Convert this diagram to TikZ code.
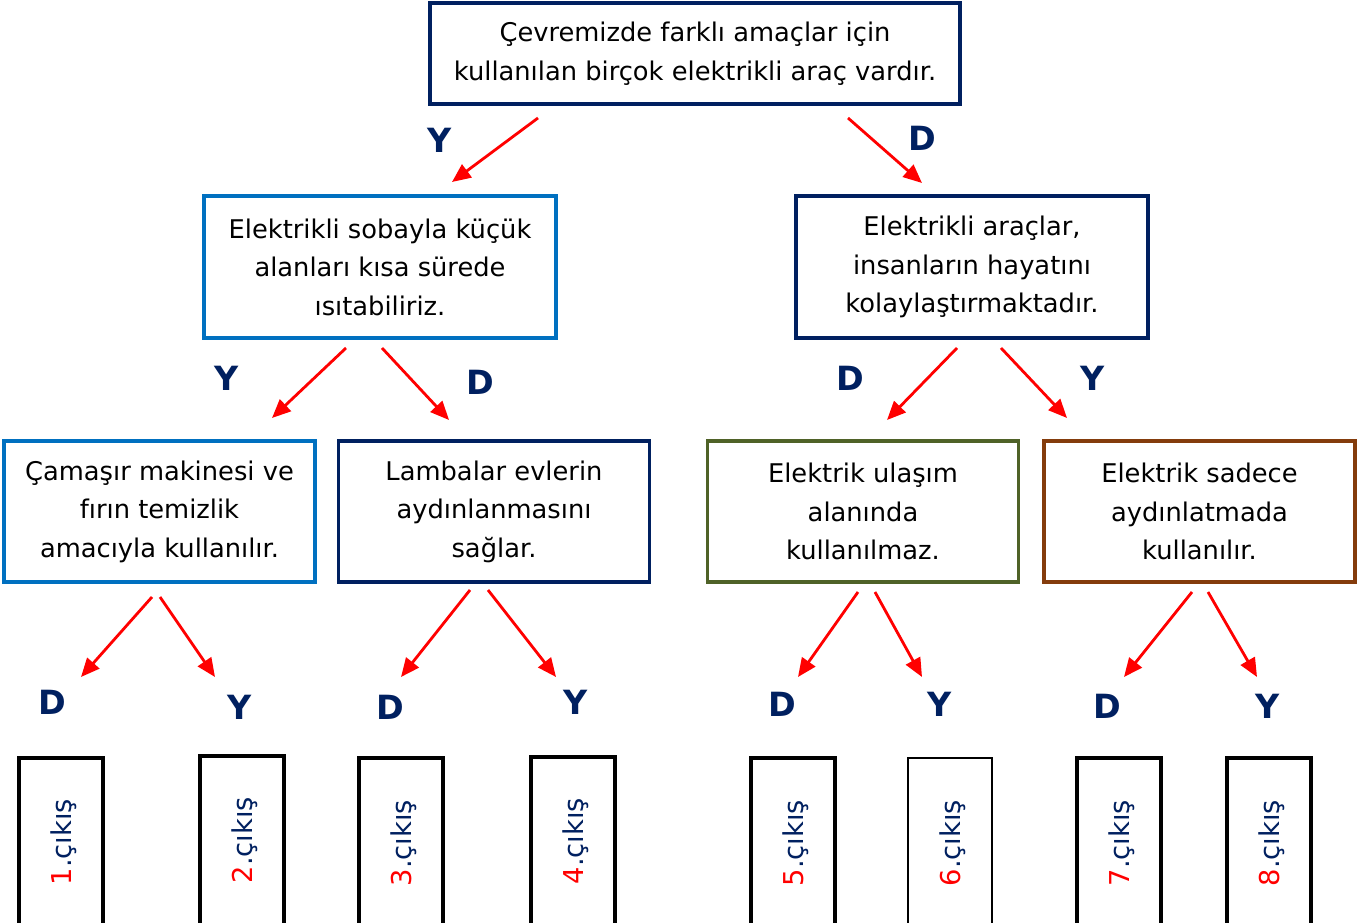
\documentclass[tikz,border=0pt]{standalone}
\usepackage{fontspec}
\setmainfont{DejaVu Sans}
\usetikzlibrary{arrows.meta}
\definecolor{navy}{RGB}{0,32,96}
\definecolor{lblue}{RGB}{0,112,192}
\definecolor{dgreen}{RGB}{79,98,40}
\definecolor{brown}{RGB}{132,60,12}
\tikzset{
  box/.style={draw, line width=2.4pt, align=center, inner sep=0pt,
    font=\fontsize{19.3}{28.9}\selectfont, text=black},
  topbox/.style={box, draw=navy, minimum width=397.5pt, minimum height=75.75pt},
  midbox/.style={box, minimum width=264pt, minimum height=106.5pt},
  lowbox/.style={box, minimum width=233.25pt, minimum height=105.75pt},
  outbox/.style={draw=black, line width=2.4pt, rotate=90, inner sep=0pt,
    minimum width=127.5pt, minimum height=63pt},
  outtxt/.style={rotate=90, inner sep=0pt, text=navy, font=\fontsize{20.5}{24}\selectfont},
  yd/.style={text=navy, font=\fontsize{25}{28}\selectfont\bfseries, inner sep=0pt},
  arr/.style={draw=red, line width=2.1pt, -{Triangle[length=14pt,width=12pt]}},
}
\begin{document}
\begin{tikzpicture}[x=0.75pt,y=-0.75pt]
\clip (0,0) rectangle (1368,923);
\fill[white] (0,0) rectangle (1368,923);

% boxes
\node[topbox] (top) at (695,53.5) {Çevremizde farklı amaçlar için\\kullanılan birçok elektrikli araç vardır.};
\node[midbox, draw=lblue] (ml) at (380,267) {Elektrikli sobayla küçük\\alanları kısa sürede\\ısıtabiliriz.};
\node[midbox, draw=navy] (mr) at (972,267) {Elektrikli araçlar,\\insanların hayatını\\kolaylaştırmaktadır.};
\node[lowbox, draw=lblue] (la) at (159.5,511.5) {Çamaşır makinesi ve\\fırın temizlik\\amacıyla kullanılır.};
\node[lowbox, draw=navy] (lb) at (494,511.5) {Lambalar evlerin\\aydınlanmasını\\sağlar.};
\node[lowbox, draw=dgreen] (lc) at (863,511.5) {Elektrik ulaşım\\alanında\\kullanılmaz.};
\node[lowbox, draw=brown] (ld) at (1199.5,511.5) {Elektrik sadece\\aydınlatmada\\kullanılır.};

% output boxes
\node[outbox] (o1) at (61,843) {};
\node[outbox] (o2) at (242,841) {};
\node[outbox] (o3) at (401,843) {};
\node[outbox] (o4) at (573,842) {};
\node[outbox] (o5) at (793,843) {};
\node[outbox, line width=1pt] (o6) at (950,843) {};
\node[outbox] (o7) at (1119,843) {};
\node[outbox] (o8) at (1269,843) {};

\node[outtxt] (t1) at (64,842) {\textcolor{red}{1}.çıkış};
\node[outtxt] (t2) at (245,840) {\textcolor{red}{2}.çıkış};
\node[outtxt] (t3) at (404,843) {\textcolor{red}{3}.çıkış};
\node[outtxt] (t4) at (576,841) {\textcolor{red}{4}.çıkış};
\node[outtxt] (t5) at (796,843) {\textcolor{red}{5}.çıkış};
\node[outtxt] (t6) at (953,843) {\textcolor{red}{6}.çıkış};
\node[outtxt] (t7) at (1122,843) {\textcolor{red}{7}.çıkış};
\node[outtxt] (t8) at (1272,843) {\textcolor{red}{8}.çıkış};

% labels
\node[yd] (y1) at (440,140) {Y};
\node[yd] (d1) at (922,138) {D};
\node[yd] (y2) at (227,378) {Y};
\node[yd] (d2) at (480,382) {D};
\node[yd] (d3) at (850,378) {D};
\node[yd] (y3) at (1093,378) {Y};
\node[yd] (d4) at (52,702) {D};
\node[yd] (y4) at (240,707) {Y};
\node[yd] (d5) at (390,707) {D};
\node[yd] (y5) at (576,702) {Y};
\node[yd] (d6) at (782,704) {D};
\node[yd] (y6) at (940,704) {Y};
\node[yd] (d7) at (1107,706) {D};
\node[yd] (y7) at (1268,706) {Y};

% arrow endpoints
\coordinate (a1s) at (538,118); \coordinate (a1e) at (452,182);
\coordinate (a2s) at (848,118); \coordinate (a2e) at (922,183);
\coordinate (a3s) at (346,348); \coordinate (a3e) at (272,418);
\coordinate (a4s) at (382,348); \coordinate (a4e) at (449,420);
\coordinate (a5s) at (957,348); \coordinate (a5e) at (887,420);
\coordinate (a6s) at (1001,348); \coordinate (a6e) at (1067,418);
\coordinate (a7s) at (152,597); \coordinate (a7e) at (81,677);
\coordinate (a8s) at (160,597); \coordinate (a8e) at (215,677);
\coordinate (a9s) at (470,590); \coordinate (a9e) at (401,677);
\coordinate (a10s) at (488,590); \coordinate (a10e) at (556,677);
\coordinate (a11s) at (858,592); \coordinate (a11e) at (798,677);
\coordinate (a12s) at (875,592); \coordinate (a12e) at (922,677);
\coordinate (a13s) at (1192,592); \coordinate (a13e) at (1124,677);
\coordinate (a14s) at (1208,592); \coordinate (a14e) at (1257,677);
\foreach \i in {1,...,14}{\draw[arr] (a\i s) -- (a\i e);}
\end{tikzpicture}
\end{document}
